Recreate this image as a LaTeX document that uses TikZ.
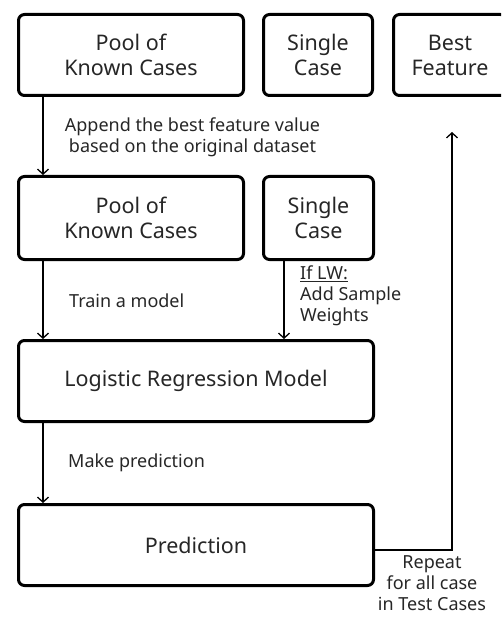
\documentclass[tikz,border=0pt]{standalone}
\usepackage{fontspec}
\setmainfont{Noto Sans}
\usetikzlibrary{arrows.meta,calc}
\begin{document}
\begin{tikzpicture}[x=1pt,y=-1pt,
  box/.style={draw=black,line width=3pt,rounded corners=6pt,align=center,
    text=black!85,font=\fontsize{21.5}{25}\selectfont,inner sep=0pt},
  lbl/.style={text=black!85,font=\fontsize{18}{21}\selectfont,inner sep=0pt},
  arr/.style={line width=1.3pt,-{Straight Barb[length=5pt,width=11pt,line width=1.3pt]}}]
\useasboundingbox (0,0) rectangle (501,620);
\begin{scope}
\clip (0,0) rectangle (501,620);
\node[box,minimum width=225pt,minimum height=81pt] (p1) at (131,55) {Pool of\\Known Cases};
\node[box,minimum width=109pt,minimum height=81pt] (s1) at (318,55) {Single\\Case};
\node[box,minimum width=113pt,minimum height=81pt] (bf) at (450,55) {Best\\Feature};
\end{scope}
\node[box,minimum width=225pt,minimum height=83pt] (p2) at (131,218) {Pool of\\Known Cases};
\node[box,minimum width=110pt,minimum height=83pt] (s2) at (318.5,218) {Single\\Case};
\node[box,minimum width=355pt,minimum height=81pt] (lr) at (196,381) {Logistic Regression Model};
\node[box,minimum width=355pt,minimum height=81pt] (pred) at (196,545) {Prediction};
\coordinate (ax) at (43,0);
\coordinate (bx) at (284,0);
\coordinate (rx) at (452,132);
\draw[arr] (ax |- p1.south) -- (ax |- p2.north);
\draw[arr] (ax |- p2.south) -- (ax |- lr.north);
\draw[arr] (bx |- s2.south) -- (bx |- lr.north);
\draw[arr] (ax |- lr.south) -- (ax |- pred.north);
\draw[arr] ($(pred.east)+(0,5)$) -| (rx);
\node[lbl,align=center] (l1) at (192.5,137.5) {Append the best feature value\\based on the original dataset};
\node[lbl,anchor=west] (l2) at (69,301) {Train a model};
\node[lbl,anchor=north west,align=left] (l3) at (300,266) {\underline{If LW:}\\Add Sample\\Weights};
\node[lbl,anchor=west] (l4) at (68,463) {Make prediction};
\node[lbl,anchor=north,align=center] (l5) at (432,555) {Repeat\\for all case\\in Test Cases};
\end{tikzpicture}
\end{document}
